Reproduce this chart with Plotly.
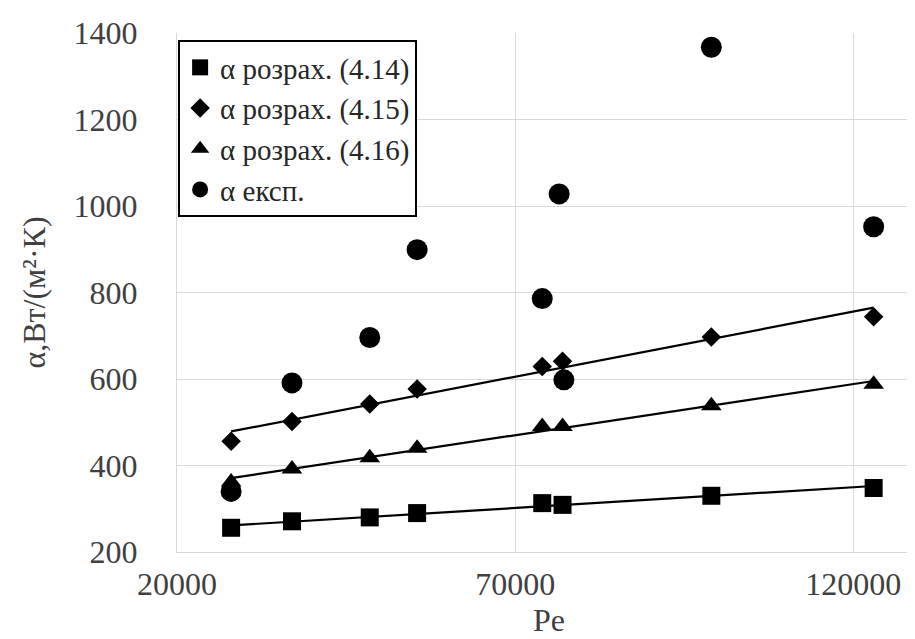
import numpy as np
import plotly.graph_objects as go

# Data
pe_calc = [28000, 37000, 48500, 55500, 74000, 77000, 99000, 123000]
alpha_414 = [256, 271, 280, 290, 313, 309, 330, 348]
alpha_415 = [456, 502, 542, 577, 629, 641, 697, 744]
alpha_416 = [362, 392, 418, 440, 490, 490, 538, 588]

pe_exp = [28000, 37000, 48500, 55500, 74000, 76500, 77200, 99000, 123000]
alpha_exp = [340, 591, 696, 899, 786, 1028, 598, 1367, 952]

names = ["α розрах. (4.14)", "α розрах. (4.15)", "α розрах. (4.16)", "α експ."]

x_ticks = [20000, 70000, 120000]
y_ticks = [200, 400, 600, 800, 1000, 1200, 1400]

fig = go.Figure()

# Linear trendlines for calculated series
for ys in (alpha_414, alpha_415, alpha_416):
    k, b = np.polyfit(pe_calc, ys, 1)
    xs = [min(pe_calc), max(pe_calc)]
    fig.add_trace(go.Scatter(x=xs, y=[k * v + b for v in xs], mode="lines",
                             line=dict(color="black", width=2.2),
                             showlegend=False, hoverinfo="skip"))

fig.add_trace(go.Scatter(x=pe_calc, y=alpha_414, mode="markers", name=names[0],
                         marker=dict(symbol="square", size=18, color="black")))
fig.add_trace(go.Scatter(x=pe_calc, y=alpha_415, mode="markers", name=names[1],
                         marker=dict(symbol="diamond", size=15, color="black")))
fig.add_trace(go.Scatter(x=pe_calc, y=alpha_416, mode="markers", name=names[2],
                         marker=dict(symbol="triangle-up", size=18, color="black")))
fig.add_trace(go.Scatter(x=pe_exp, y=alpha_exp, mode="markers", name=names[3],
                         marker=dict(symbol="circle", size=21, color="black")))

fig.update_layout(
    width=915, height=639,
    margin=dict(l=169, r=2, t=25, b=95),
    paper_bgcolor="white", plot_bgcolor="white",
    font=dict(family="Liberation Serif", size=32, color="#404040"),
    showlegend=True,
    legend=dict(x=0.0015, y=0.9865, xanchor="left", yanchor="top",
                bgcolor="white", bordercolor="black", borderwidth=2,
                font=dict(family="Liberation Serif", size=29, color="#262626"),
                itemsizing="trace", tracegroupgap=0),
)
fig.update_xaxes(range=[20000, 130000], tickvals=x_ticks,
                 ticktext=[str(v) for v in x_ticks],
                 showgrid=True, gridcolor="#d9d9d9", gridwidth=1,
                 showline=True, linecolor="#d9d9d9", linewidth=1,
                 zeroline=False, ticks="", ticklabelstandoff=4,
                 title=dict(text="Pe", font=dict(size=32, color="#404040"), standoff=2))
fig.update_yaxes(range=[200, 1400], tickvals=y_ticks,
                 showgrid=True, gridcolor="#d9d9d9", gridwidth=1,
                 showline=True, linecolor="#d9d9d9", linewidth=1,
                 zeroline=False, ticks="", ticklabelstandoff=32,
                 title=dict(text="α,Вт/(м²·К)", font=dict(size=32, color="#404040"), standoff=18))

fig.write_html("out.html")
